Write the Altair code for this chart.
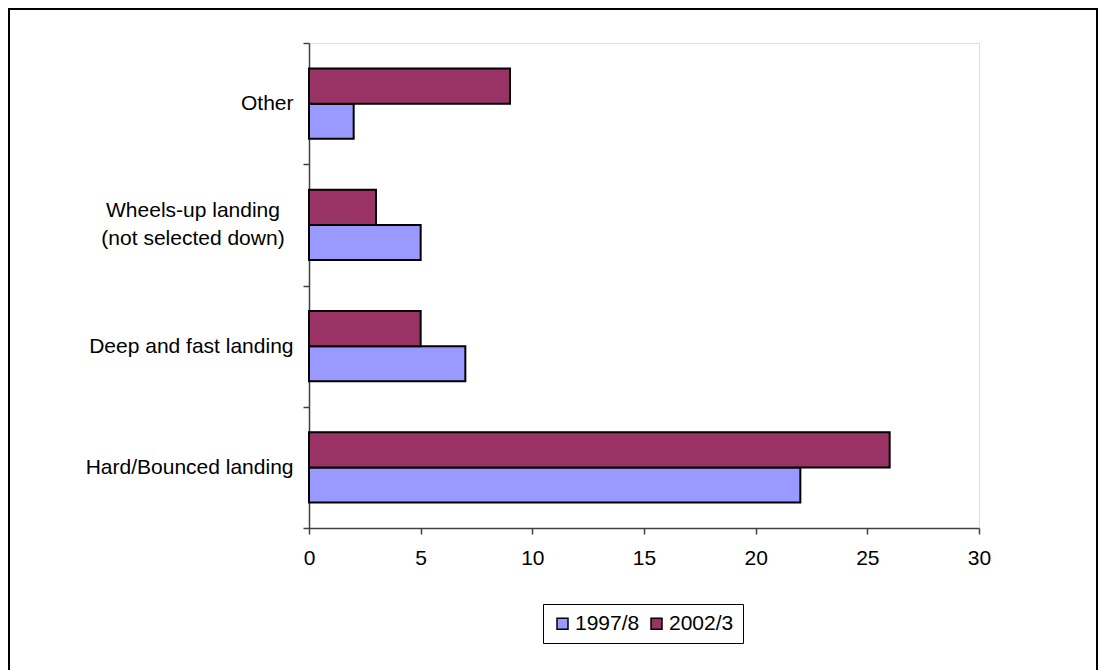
import altair as alt
import pandas as pd

categories = ["Other", "Wheels-up landing|(not selected down)", "Deep and fast landing", "Hard/Bounced landing"]
series = ["1997/8", "2002/3"]
values_1997 = [2, 5, 7, 22]
values_2002 = [9, 3, 5, 26]
x_ticks = [0, 5, 10, 15, 20, 25, 30]

rows = []
for c, a, b in zip(categories, values_1997, values_2002):
    rows.append({"category": c, "series": series[0], "value": a})
    rows.append({"category": c, "series": series[1], "value": b})
df = pd.DataFrame(rows)
multi_cat = categories[1]
multi_df = pd.DataFrame({"category": [multi_cat]})

FONT = "Liberation Sans"

frame = alt.Chart(pd.DataFrame({"a": [0]})).mark_rect(
    fill="transparent", stroke="black", strokeWidth=2
).encode(
    x=alt.value(-300), x2=alt.value(788), y=alt.value(-34), y2=alt.value(637)
)

y_enc = alt.Y(
    "category:N",
    sort=categories,
    scale=alt.Scale(paddingInner=0, paddingOuter=0),
    axis=alt.Axis(
        title=None, tickBand="extent", tickSize=6, labelLimit=400, labelPadding=10,
        labelFontSize=21, labelFont=FONT, labelColor="black",
        labelExpr="datum.label == '" + multi_cat + "' ? '' : datum.label",
        domainColor="#404040", domainWidth=1.5, tickColor="#404040", tickWidth=1.5,
    ),
)

bars = alt.Chart(df).mark_bar(stroke="black", strokeWidth=2).encode(
    x=alt.X(
        "value:Q",
        scale=alt.Scale(domain=[0, 30], nice=False),
        axis=alt.Axis(
            values=x_ticks, title=None, grid=False, tickSize=6, labelPadding=13,
            labelFontSize=21, labelFont=FONT, labelColor="black", labelFlush=False,
            domainColor="#404040", domainWidth=1.5, tickColor="#404040", tickWidth=1.5,
        ),
    ),
    y=y_enc,
    yOffset=alt.YOffset(
        "series:N",
        sort=["2002/3", "1997/8"],
        scale=alt.Scale(paddingInner=0, paddingOuter=0.73),
    ),
    fill=alt.Fill(
        "series:N",
        scale=alt.Scale(domain=series, range=["#9999FF", "#993366"]),
        legend=alt.Legend(
            title=None, orient="none", legendX=234, legendY=561, direction="horizontal",
            strokeColor="black", padding=9, symbolType="square", symbolSize=121,
            symbolStrokeColor="black", symbolStrokeWidth=1.5, labelFontSize=21,
            labelFont=FONT, labelColor="black", labelOffset=2, columnPadding=6,
        ),
    ),
)

multi_label = alt.Chart(multi_df).mark_text(
    font=FONT, fontSize=21, color="black", align="center", baseline="middle",
    lineBreak="|", lineHeight=28, dy=-14,
).encode(
    y=alt.Y("category:N", sort=categories),
    x=alt.value(-116),
    text="category:N",
)

chart = alt.layer(frame, bars, multi_label).properties(
    width=670, height=485, padding=0
).configure_view(
    stroke="#8c8c8c", strokeWidth=2
).configure(background="white")

chart.save("out.html", embed_options={"renderer": "svg", "actions": False})
